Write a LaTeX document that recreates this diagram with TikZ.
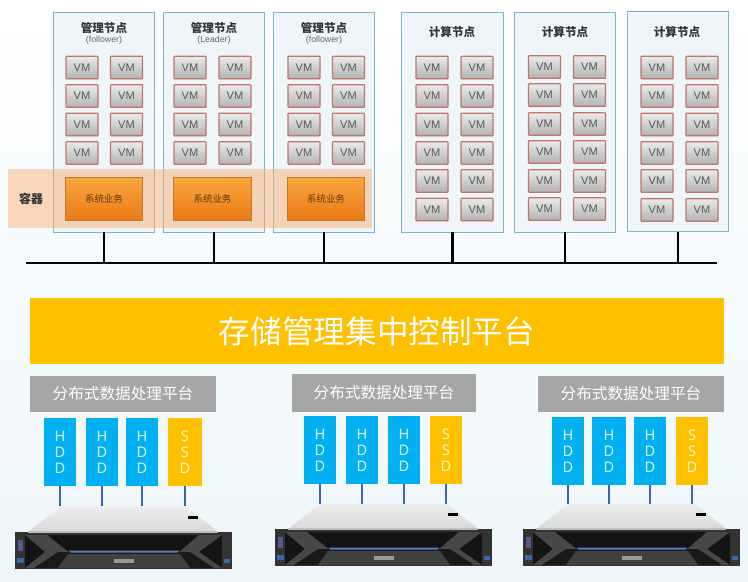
\documentclass[tikz,border=0pt]{standalone}
\usepackage{fontspec}
\usepackage{tikz}
\usetikzlibrary{shadows}
\newfontfamily\cjk{Noto Sans CJK SC}
\newfontfamily\vmfont{Liberation Sans}
\newfontfamily\diskfont{Noto Sans}
\definecolor{panelfill}{HTML}{EEF6FA}
\definecolor{paneledge}{HTML}{7FB2C4}
\definecolor{vmedge}{HTML}{C4726C}
\definecolor{hddblue}{HTML}{00B0F0}
\definecolor{ssdgold}{HTML}{FFC000}
\definecolor{cablecol}{HTML}{3A66AE}
\definecolor{bandfill}{HTML}{F7B27A}
\definecolor{tasktop}{HTML}{FBA63F}
\definecolor{taskbot}{HTML}{EA7A16}
\definecolor{taskedge}{HTML}{C9752A}
\definecolor{tasktext}{HTML}{5E3A10}
\definecolor{earcol}{HTML}{56588F}
\tikzset{
  panel/.style={draw=paneledge, fill=panelfill, line width=0.5pt, minimum width=2.03cm, minimum height=4.4cm, inner sep=0pt},
  vmbox/.style={draw=vmedge, line width=0.6pt, rounded corners=0.4pt, top color=black!8, bottom color=black!30, minimum width=0.64cm, minimum height=0.45cm, inner sep=0pt, text=black!65, font=\vmfont\fontsize{6.3}{7}\selectfont, drop shadow={shadow xshift=0.2pt, shadow yshift=-0.4pt, opacity=0.3}},
  taskbox/.style={draw=taskedge, line width=0.4pt, top color=tasktop, bottom color=taskbot, minimum width=1.55cm, minimum height=0.86cm, inner sep=0pt, text=tasktext, font=\cjk\fontsize{5.4}{6}\selectfont, drop shadow={shadow xshift=0.2pt, shadow yshift=-0.5pt, opacity=0.4}},
  nodetitle/.style={inner sep=0pt, text=black!80, font=\cjk\bfseries\fontsize{6.6}{8}\selectfont},
  roletext/.style={inner sep=0pt, text=black!60, font=\vmfont\fontsize{5}{6}\selectfont},
  grouphead/.style={fill=black!35, minimum width=3.72cm, minimum height=0.72cm, inner sep=0pt, text=white, font=\cjk\fontsize{8.9}{10}\selectfont},
  hddbox/.style={fill=hddblue, minimum width=0.64cm, minimum height=1.36cm, inner sep=0pt, align=center, text=white!85!hddblue, font=\diskfont\fontsize{8.3}{9}\selectfont},
  ssdbox/.style={hddbox, fill=ssdgold, text=white!80!ssdgold},
  busline/.style={black, line width=1.2pt},
  cable/.style={cablecol, line width=1.1pt}
}
% chassis, x and y are the offset from the first one
\newcommand{\serverunit}[2]{
\begin{scope}[shift={(#1,#2)}]
\shade [top color=black!7, bottom color=black!15] (60,-507) -- (187,-507) -- (218,-532) -- (28,-532) -- cycle;
\fill [black!80] (15,-532) -- (232,-532) -- (232,-569) -- (15,-569) -- cycle;
\fill [black!25] (28,-531) -- (218,-531) -- (218,-533) -- (28,-533) -- cycle;
\fill [black!92] (25,-535) -- (222,-535) -- (222,-568) -- (25,-568) -- cycle;
\fill [black!72] (25,-535) -- (47,-535) -- (70,-553) -- (178,-553) -- (199,-535) -- (222,-535) -- (199,-552) -- (222,-568) -- (25,-568) -- (45,-552) -- cycle;
\fill [black!90] (34,-568) -- (58,-552) -- (190,-552) -- (214,-568) -- cycle;
\fill [black!75] (68,-554) -- (180,-554) -- (190,-568) -- (58,-568) -- cycle;
\fill [cablecol!85] (69,-550.5) -- (179,-550.5) -- (178,-552.5) -- (70,-552.5) -- cycle;
\fill [black!40] (114,-559) -- (134,-559) -- (134,-563) -- (114,-563) -- cycle;
\fill [black] (188,-516) -- (198,-516) -- (198,-519) -- (188,-519) -- cycle;
\fill [earcol] (18,-540) -- (23,-540) -- (23,-551) -- (18,-551) -- cycle;
\fill [cablecol] (16.5,-558) -- (23.5,-558) -- (23.5,-563) -- (16.5,-563) -- cycle;
\fill [cablecol] (224,-559) -- (230,-559) -- (230,-563) -- (224,-563) -- cycle;
\end{scope}
}
\begin{document}
\begin{tikzpicture}[x=0.02cm,y=0.02cm]
\shade [top color=white, middle color=white!70!panelfill, bottom color=panelfill] (0,0) rectangle (748,-582);
% node panels
\node [panel] (n1) at (104,-122) {};
\node [panel] (n2) at (214,-122) {};
\node [panel] (n3) at (324,-122) {};
\node [panel] (n4) at (452.5,-122) {};
\node [panel] (n5) at (565,-122) {};
\node [panel] (n6) at (678,-121.5) {};
\node [nodetitle] (t1) at (104,-28) {管理节点};
\node [nodetitle] (t2) at (214,-28) {管理节点};
\node [nodetitle] (t3) at (324,-28) {管理节点};
\node [nodetitle] (t4) at (452,-32) {计算节点};
\node [nodetitle] (t5) at (565,-32) {计算节点};
\node [nodetitle] (t6) at (677,-32) {计算节点};
\node [roletext] (r1) at (104,-40) {(follower)};
\node [roletext] (r2) at (214,-40) {(Leader)};
\node [roletext] (r3) at (324,-40) {(follower)};
% vm boxes
\node [vmbox] (m11) at (82,-67.5) {VM};
\node [vmbox] (m12) at (126.5,-67.5) {VM};
\node [vmbox] (m13) at (82,-96) {VM};
\node [vmbox] (m14) at (126.5,-96) {VM};
\node [vmbox] (m15) at (82,-124.5) {VM};
\node [vmbox] (m16) at (126.5,-124.5) {VM};
\node [vmbox] (m17) at (82,-153) {VM};
\node [vmbox] (m18) at (126.5,-153) {VM};
\node [vmbox] (m21) at (190,-67.5) {VM};
\node [vmbox] (m22) at (235,-67.5) {VM};
\node [vmbox] (m23) at (190,-96) {VM};
\node [vmbox] (m24) at (235,-96) {VM};
\node [vmbox] (m25) at (190,-124.5) {VM};
\node [vmbox] (m26) at (235,-124.5) {VM};
\node [vmbox] (m27) at (190,-153) {VM};
\node [vmbox] (m28) at (235,-153) {VM};
\node [vmbox] (m31) at (304,-67.5) {VM};
\node [vmbox] (m32) at (348.5,-67.5) {VM};
\node [vmbox] (m33) at (304,-96) {VM};
\node [vmbox] (m34) at (348.5,-96) {VM};
\node [vmbox] (m35) at (304,-124.5) {VM};
\node [vmbox] (m36) at (348.5,-124.5) {VM};
\node [vmbox] (m37) at (304,-153) {VM};
\node [vmbox] (m38) at (348.5,-153) {VM};
\node [vmbox] (c11) at (432,-67.5) {VM};
\node [vmbox] (c12) at (477,-67.5) {VM};
\node [vmbox] (c13) at (432,-96) {VM};
\node [vmbox] (c14) at (477,-96) {VM};
\node [vmbox] (c15) at (432,-124.5) {VM};
\node [vmbox] (c16) at (477,-124.5) {VM};
\node [vmbox] (c17) at (432,-153) {VM};
\node [vmbox] (c18) at (477,-153) {VM};
\node [vmbox] (c19) at (432,-181) {VM};
\node [vmbox] (c110) at (477,-181) {VM};
\node [vmbox] (c111) at (432,-209.5) {VM};
\node [vmbox] (c112) at (477,-209.5) {VM};
\node [vmbox] (c21) at (544.5,-67) {VM};
\node [vmbox] (c22) at (589.5,-67) {VM};
\node [vmbox] (c23) at (544.5,-95) {VM};
\node [vmbox] (c24) at (589.5,-95) {VM};
\node [vmbox] (c25) at (544.5,-124) {VM};
\node [vmbox] (c26) at (589.5,-124) {VM};
\node [vmbox] (c27) at (544.5,-152) {VM};
\node [vmbox] (c28) at (589.5,-152) {VM};
\node [vmbox] (c29) at (544.5,-181) {VM};
\node [vmbox] (c210) at (589.5,-181) {VM};
\node [vmbox] (c211) at (544.5,-209) {VM};
\node [vmbox] (c212) at (589.5,-209) {VM};
\node [vmbox] (c31) at (657,-67.5) {VM};
\node [vmbox] (c32) at (702,-67.5) {VM};
\node [vmbox] (c33) at (657,-96) {VM};
\node [vmbox] (c34) at (702,-96) {VM};
\node [vmbox] (c35) at (657,-124.5) {VM};
\node [vmbox] (c36) at (702,-124.5) {VM};
\node [vmbox] (c37) at (657,-153) {VM};
\node [vmbox] (c38) at (702,-153) {VM};
\node [vmbox] (c39) at (657,-181) {VM};
\node [vmbox] (c310) at (702,-181) {VM};
\node [vmbox] (c311) at (657,-210) {VM};
\node [vmbox] (c312) at (702,-210) {VM};
% container band
\node [fill=bandfill, opacity=0.5, minimum width=7.28cm, minimum height=1.18cm, inner sep=0pt] (band) at (190,-198.5) {};
\node [inner sep=0pt, text=black!80, font=\cjk\bfseries\fontsize{6.8}{8}\selectfont] (rq) at (31,-199) {容器};
\node [taskbox] (j1) at (104,-198.5) {系统业务};
\node [taskbox] (j2) at (212.5,-198.5) {系统业务};
\node [taskbox] (j3) at (326,-198.5) {系统业务};
% bus
\coordinate (busl) at (26,-263);
\coordinate (busr) at (717,-263);
\draw [busline] (busl) -- (busr);
\draw [busline] (n1.south) -- (n1.south |- busl);
\draw [busline] (n2.south) -- (n2.south |- busl);
\draw [busline] (n3.south) -- (n3.south |- busl);
\draw [busline] (n4.south) -- (n4.south |- busl);
\draw [busline] (n5.south) -- (n5.south |- busl);
\draw [busline] (n6.south) -- (n6.south |- busl);
% control platform
\node [fill=ssdgold, minimum width=13.88cm, minimum height=1.32cm, inner sep=0pt, text=white, font=\cjk\fontsize{18}{20}\selectfont] (ctl) at (377,-331) {存储管理集中控制平台};
% storage groups
\node [grouphead] (g1) at (123,-394) {分布式数据处理平台};
\node [grouphead, minimum width=3.68cm, minimum height=0.76cm] (g2) at (384,-393) {分布式数据处理平台};
\node [grouphead] (g3) at (631,-394) {分布式数据处理平台};
\node [hddbox] (d11) at (60,-452) {H\\D\\D};
\node [hddbox] (d12) at (102,-452) {H\\D\\D};
\node [hddbox] (d13) at (142,-452) {H\\D\\D};
\node [ssdbox, minimum width=0.68cm] (d14) at (185,-452) {S\\S\\D};
\node [hddbox] (d21) at (320,-450) {H\\D\\D};
\node [hddbox] (d22) at (362,-450) {H\\D\\D};
\node [hddbox] (d23) at (404,-450) {H\\D\\D};
\node [ssdbox] (d24) at (446,-450) {S\\S\\D};
\node [hddbox] (d31) at (568,-451) {H\\D\\D};
\node [hddbox, minimum width=0.68cm] (d32) at (609,-451) {H\\D\\D};
\node [hddbox] (d33) at (650,-451) {H\\D\\D};
\node [ssdbox] (d34) at (692,-451) {S\\S\\D};
% servers
\serverunit{0}{0}
\serverunit{260}{3}
\serverunit{508}{3}
\coordinate (s1) at (123,-506);
\coordinate (s2) at (383,-504);
\coordinate (s3) at (631,-504);
\draw [cable] (d11.south) -- (d11.south |- s1);
\draw [cable] (d12.south) -- (d12.south |- s1);
\draw [cable] (d13.south) -- (d13.south |- s1);
\draw [cable] (d14.south) -- (d14.south |- s1);
\draw [cable] (d21.south) -- (d21.south |- s2);
\draw [cable] (d22.south) -- (d22.south |- s2);
\draw [cable] (d23.south) -- (d23.south |- s2);
\draw [cable] (d24.south) -- (d24.south |- s2);
\draw [cable] (d31.south) -- (d31.south |- s3);
\draw [cable] (d32.south) -- (d32.south |- s3);
\draw [cable] (d33.south) -- (d33.south |- s3);
\draw [cable] (d34.south) -- (d34.south |- s3);
\end{tikzpicture}
\end{document}
